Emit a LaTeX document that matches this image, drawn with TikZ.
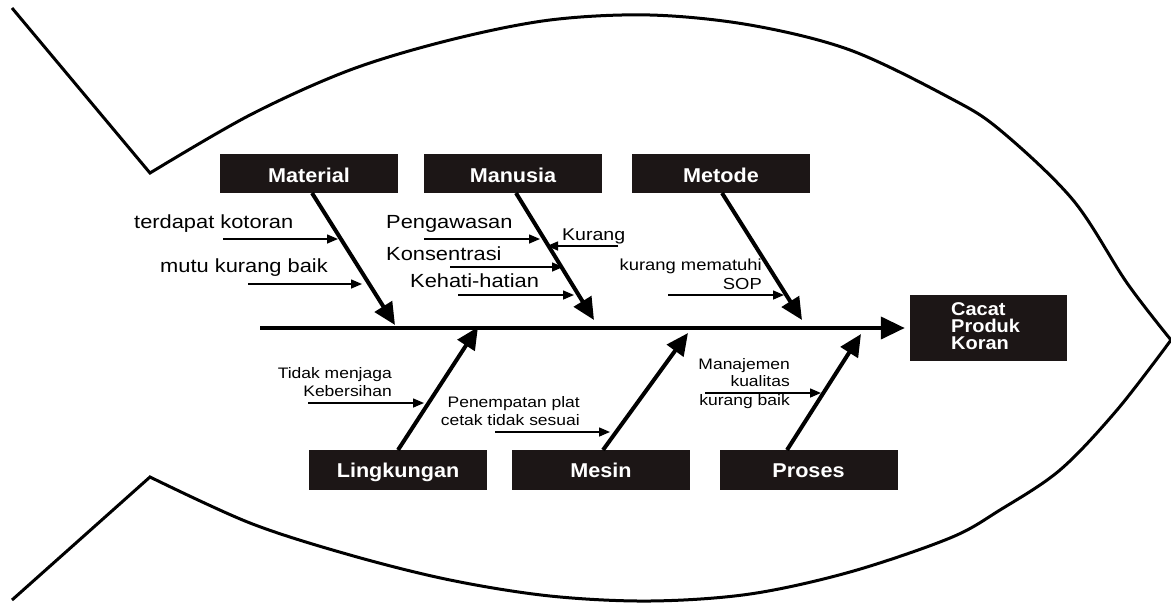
\documentclass[tikz,border=0pt]{standalone}
\usepackage{fontspec}
\setmainfont{Liberation Sans}
\newfontfamily\regf[FakeStretch=1.15]{Liberation Sans}
\newfontfamily\boldf[FakeStretch=1.08]{Liberation Sans}
\usetikzlibrary{arrows.meta}
\definecolor{boxc}{HTML}{1C1616}
\begin{document}
\begin{tikzpicture}[x=1pt,y=-1pt,
  outline/.style={line width=3pt,line join=miter},
  cat/.style={fill=boxc,text=white,inner sep=0pt,minimum width=178pt,minimum height=39pt,
    text height=15.6pt,text depth=0pt,
    font=\boldf\bfseries\fontsize{20}{20}\selectfont},
  cattop/.style={cat,text height=17.4pt},
  bone/.style={line width=4pt,-{Triangle[length=22pt,width=20pt]}},
  spine/.style={line width=4pt,-{Triangle[length=24pt,width=22pt]}},
  sarrow/.style={line width=1.5pt,-{Triangle[length=11pt,width=9pt]}},
  lbl/.style={inner sep=0pt,font=\regf\fontsize{19}{19}\selectfont},
  sml/.style={inner sep=0pt,font=\regf\fontsize{15.2}{15.2}\selectfont}]
\useasboundingbox (0,0) rectangle (1171,606);

% fish outline
\draw[outline] (12,8) -- plot[smooth,tension=0.55] coordinates {(150,173) (250,115) (350,70) (450,40) (550,20) (650,15) (750,25) (850,50) (950,98) (1000,130) (1073,200) (1127,283) (1171,340)};
\draw[outline] (12,600) -- plot[smooth,tension=0.55] coordinates {(150,477) (250,523) (350,555) (450,580) (550,596) (650,601) (750,594) (850,572) (950,538) (1000,510) (1060,470) (1117,410) (1171,340)};

% category boxes
\node[cattop] (mat) at (309,173.5) {Material};
\node[cattop] (man) at (513,173.5) {Manusia};
\node[cattop] (met) at (721,173.5) {Metode};
\node[cat,minimum height=40pt] (lin) at (398,470) {Lingkungan};
\node[cat,minimum height=40pt] (mes) at (601,470) {Mesin};
\node[cat,minimum height=40pt] (pro) at (808.5,470) {Proses};
\node[fill=boxc,minimum width=157pt,minimum height=66pt,inner sep=0pt] (eff) at (988.5,328) {};
\node[inner sep=0pt,anchor=base west,text=white,font=\boldf\bfseries\fontsize{18.5}{17}\selectfont,align=left] (efft) at (951,349) {Cacat\\Produk\\Koran};

% spine
\coordinate (tail) at (260,328);
\draw[spine,shorten >=5pt] (tail) -- (eff.west);

% bone ends
\coordinate (matS) at (312,193);
\coordinate (matT) at (395,325);
\coordinate (manS) at (516,193);
\coordinate (manT) at (594,320);
\coordinate (metS) at (722,193);
\coordinate (metT) at (802,320);
\coordinate (linS) at (398,450);
\coordinate (linT) at (478,327);
\coordinate (mesS) at (603,450);
\coordinate (mesT) at (688,333);
\coordinate (proS) at (787,450);
\coordinate (proT) at (861,334);
\draw[bone] (matS) -- (matT);
\draw[bone] (manS) -- (manT);
\draw[bone] (metS) -- (metT);
\draw[bone] (linS) -- (linT);
\draw[bone] (mesS) -- (mesT);
\draw[bone] (proS) -- (proT);

% cause labels
\node[lbl,anchor=base west] (c1) at (134,228) {terdapat kotoran};
\node[lbl,anchor=base west] (c2) at (160,272.5) {mutu kurang baik};
\node[lbl,anchor=base west] (c3) at (386,228) {Pengawasan};
\node[lbl,anchor=base west,font=\regf\fontsize{17}{17}\selectfont] (c4) at (562,240.5) {Kurang};
\node[lbl,anchor=base west] (c5) at (386,260) {Konsentrasi};
\node[lbl,anchor=base west] (c6) at (410,287) {Kehati-hatian};
\node[sml,anchor=base east,font=\regf\fontsize{16}{16}\selectfont] (c7a) at (762,270.5) {kurang mematuhi};
\node[sml,anchor=base east,font=\regf\fontsize{16}{16}\selectfont] (c7b) at (762,289) {SOP};
\node[sml,anchor=base east] (c8a) at (392,378) {Tidak menjaga};
\node[sml,anchor=base east] (c8b) at (392,396) {Kebersihan};
\node[sml,anchor=base east] (c9a) at (580,407) {Penempatan plat};
\node[sml,anchor=base east] (c9b) at (580,425) {cetak tidak sesuai};
\node[sml,anchor=base east] (c10a) at (790,369.3) {Manajemen};
\node[sml,anchor=base east] (c10b) at (790,386.7) {kualitas};
\node[sml,anchor=base east] (c10c) at (790,405) {kurang baik};

% cause arrows
\coordinate (a1s) at (223,239);  \coordinate (a1e) at (338,239);
\coordinate (a2s) at (248,284);  \coordinate (a2e) at (362,284);
\coordinate (a3s) at (424,239);  \coordinate (a3e) at (540,239);
\coordinate (a4s) at (618,246);  \coordinate (a4e) at (547,246);
\coordinate (a5s) at (450,267);  \coordinate (a5e) at (563,267);
\coordinate (a6s) at (458,295);  \coordinate (a6e) at (574,295);
\coordinate (a7s) at (668,295);  \coordinate (a7e) at (784,295);
\coordinate (a8s) at (308,403);  \coordinate (a8e) at (424,403);
\coordinate (a9s) at (495,432);  \coordinate (a9e) at (610,432);
\coordinate (a10s) at (705,393); \coordinate (a10e) at (821,393);
\foreach \i in {1,...,10} \draw[sarrow] (a\i s) -- (a\i e);
\end{tikzpicture}
\end{document}
